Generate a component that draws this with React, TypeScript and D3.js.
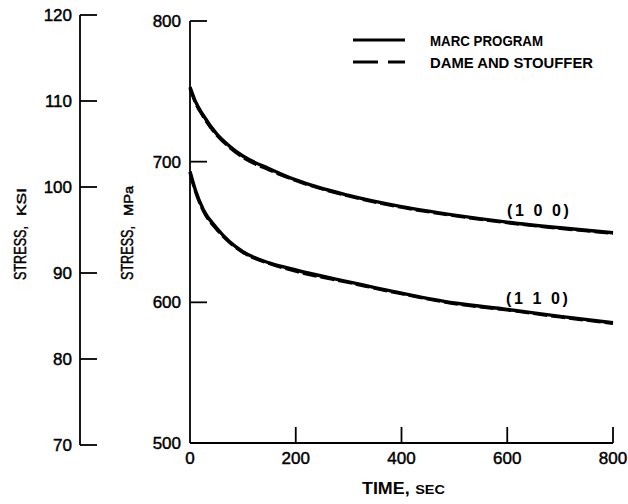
import React from "react";
import * as d3 from "d3";

const times = [0, 10, 25, 50, 75, 100, 150, 200, 300, 400, 500, 600, 700, 800];
const marc100 = [753, 743, 733, 720, 711, 704, 695, 687, 676, 668, 662, 657, 653, 649.5];
const dame100 = [752, 742, 732, 719, 710, 703, 694, 686.5, 675.5, 667.5, 661.5, 656.5, 652.5, 649];
const marc110 = [693, 680, 666, 653, 643, 636, 628, 623, 614.5, 606.5, 599.5, 595, 590, 585.5];
const dame110 = [692, 679, 665, 652, 642.5, 635.5, 627.5, 622, 614, 606, 599, 594.5, 589.5, 585];
const xTicks = [0, 200, 400, 600, 800];
const mpaTicks = [500, 600, 700, 800];
const ksiTicks = [70, 80, 90, 100, 110, 120];
const legendLabels = ["MARC PROGRAM", "DAME AND STOUFFER"];
const curveLabels = ["(1 0 0)", "(1 1 0)"];

export default function App() {
  const x = d3.scaleLinear().domain([0, 800]).range([190, 613]);
  const y = d3.scaleLinear().domain([500, 800]).range([443, 21]);
  const yk = d3.scaleLinear().domain([70, 120]).range([445, 15]);
  const line = (vals: number[]) =>
    d3
      .line<number>()
      .x((_, i) => x(times[i]))
      .y((d) => y(d))
      .curve(d3.curveMonotoneX)(vals) as string;
  const font = "'Liberation Sans', Arial, sans-serif";
  const tickLen = 17;
  const ts = { stroke: "#000", strokeWidth: 0.45 };
  return (
    <svg
      width={628}
      height={504}
      style={{ position: "absolute", left: 0, top: 0, background: "#fff" }}
      fontFamily={font}
    >
      <rect width={628} height={504} fill="#fff" />
      {/* KSI axis */}
      <line x1={80} x2={80} y1={yk(120)} y2={yk(70)} stroke="#000" strokeWidth={1.8} />
      {ksiTicks.map((t) => (
        <g key={"k" + t}>
          <line x1={80} x2={80 + tickLen} y1={yk(t)} y2={yk(t)} stroke="#000" strokeWidth={1.8} />
          <text x={72} y={yk(t) + 6} textAnchor="end" fontSize={17} {...ts}>
            {t}
          </text>
        </g>
      ))}
      {/* MPa axis */}
      <line x1={x(0)} x2={x(0)} y1={y(800)} y2={y(500)} stroke="#000" strokeWidth={1.8} />
      {mpaTicks.map((t) => (
        <g key={"m" + t}>
          <line x1={x(0)} x2={x(0) + tickLen} y1={y(t)} y2={y(t)} stroke="#000" strokeWidth={1.8} />
          <text x={181} y={y(t) + 6} textAnchor="end" fontSize={17} {...ts}>
            {t}
          </text>
        </g>
      ))}
      {/* X axis */}
      <line x1={x(0)} x2={x(800)} y1={y(500)} y2={y(500)} stroke="#000" strokeWidth={1.8} />
      {xTicks.map((t) => (
        <g key={"x" + t}>
          {t > 0 && (
            <line x1={x(t)} x2={x(t)} y1={y(500)} y2={y(500) - 16} stroke="#000" strokeWidth={1.8} />
          )}
          <text x={x(t)} y={464} textAnchor="middle" fontSize={17} {...ts}>
            {t}
          </text>
        </g>
      ))}
      <text x={362} y={494} fontSize={16} fontWeight="bold" textLength={83} lengthAdjust="spacingAndGlyphs">
        TIME,<tspan fontSize={13} dx={5}>SEC</tspan>
      </text>
      {/* axis titles */}
      <text transform="translate(26,280) rotate(-90)" fontSize={16} {...ts}>
        <tspan textLength={54} lengthAdjust="spacingAndGlyphs">STRESS,</tspan>
        <tspan fontSize={13} dx={10} textLength={28} lengthAdjust="spacingAndGlyphs">KSI</tspan>
      </text>
      <text transform="translate(133,280) rotate(-90)" fontSize={16} {...ts}>
        <tspan textLength={54} lengthAdjust="spacingAndGlyphs">STRESS,</tspan>
        <tspan fontSize={13} dx={10} textLength={30} lengthAdjust="spacingAndGlyphs">MPa</tspan>
      </text>
      {/* curves */}
      <path d={line(marc100)} fill="none" stroke="#000" strokeWidth={3.4} />
      <path d={line(dame100)} fill="none" stroke="#000" strokeWidth={3} strokeDasharray="14 4" />
      <path d={line(marc110)} fill="none" stroke="#000" strokeWidth={3.4} />
      <path d={line(dame110)} fill="none" stroke="#000" strokeWidth={3} strokeDasharray="14 4" />
      <text x={507} y={216} fontSize={16} fontWeight="bold" letterSpacing={2.6}>
        {curveLabels[0]}
      </text>
      <text x={506} y={304} fontSize={16} fontWeight="bold" letterSpacing={2.6}>
        {curveLabels[1]}
      </text>
      {/* legend */}
      <line x1={353} x2={405} y1={40} y2={40} stroke="#000" strokeWidth={3} />
      <line x1={353} x2={378} y1={62} y2={62} stroke="#000" strokeWidth={3} />
      <line x1={388} x2={405} y1={62} y2={62} stroke="#000" strokeWidth={3} />
      <text x={430} y={46} fontSize={14} fontWeight="bold" textLength={113} lengthAdjust="spacingAndGlyphs">
        {legendLabels[0]}
      </text>
      <text x={430} y={68} fontSize={14} fontWeight="bold" textLength={163} lengthAdjust="spacingAndGlyphs">
        {legendLabels[1]}
      </text>
    </svg>
  );
}
